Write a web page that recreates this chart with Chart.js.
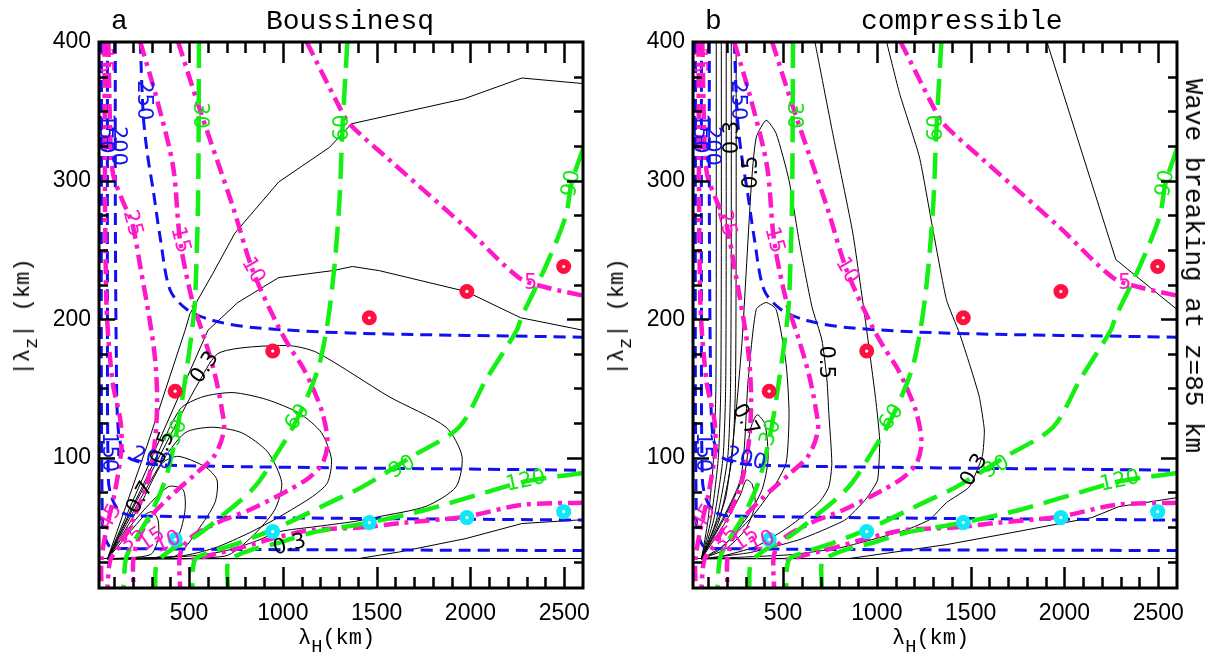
<!DOCTYPE html>
<html><head><meta charset="utf-8">
<script src="https://cdn.jsdelivr.net/npm/chart.js@4.4.1/dist/chart.umd.min.js"></script>
<style>
html,body{margin:0;padding:0;background:#fff;}
body{width:1219px;height:666px;position:relative;overflow:hidden;}
canvas{position:absolute;top:0;}
.t{position:absolute;font-family:"Liberation Mono",monospace;color:#000;white-space:nowrap;line-height:1;}
.sub{position:relative;font-size:0.85em;top:0.45em;}
</style></head><body>
<canvas id="ca" width="594" height="666" style="left:0"></canvas>
<canvas id="cb" width="625" height="666" style="left:594px"></canvas>
<div class="t" style="left:111px;top:8px;font-size:28px">a</div>
<div class="t" style="left:266px;top:8px;font-size:28px">Boussinesq</div>
<div class="t" style="left:705px;top:8px;font-size:28px">b</div>
<div class="t" style="left:861px;top:8px;font-size:28px">compressible</div>
<div class="t" style="left:1193px;top:266px;font-size:26px;transform:translate(-50%,-50%) rotate(90deg)">Wave breaking at z=85 km</div>
<div class="t" style="left:24px;top:317px;font-size:22px;transform:translate(-50%,-50%) rotate(-90deg)">|λ<span class="sub">z</span>| (km)</div>
<div class="t" style="left:618px;top:317px;font-size:22px;transform:translate(-50%,-50%) rotate(-90deg)">|λ<span class="sub">z</span>| (km)</div>
<div class="t" style="left:298px;top:628px;font-size:22px">λ<span class="sub">H</span>(km)</div>
<div class="t" style="left:892px;top:628px;font-size:22px">λ<span class="sub">H</span>(km)</div>
<script>
// ---------- axes ----------
const X_MIN = 20, X_MAX = 2600;
const Y_MIN = 6, Y_MAX = 400;
const X_TICKS = [500, 1000, 1500, 2000, 2500];
const Y_TICKS = [100, 200, 300, 400];

// ---------- markers ----------
const dotX  = [426, 946, 1461, 1981, 2497];
const redY  = [148, 177, 201, 220, 238];
const cyanY = [41, 46.7, 53.2, 56.8, 61.1];

// ---------- green (period) curves ----------
const G30  = [[553,400],[548,286],[532,214],[516,192],[479,156],[436,120],[373,84],[293,59],[213,41],[165,28],[150,6]];
const G60  = [[1344,400],[1318,338],[1302,286],[1275,238],[1238,197],[1185,163],[1073,127],[983,106],[850,79],[675,58],[532,43],[410,34],[330,24],[319,6]];
const G90  = [[2603,324],[2539,298],[2507,274],[2401,238],[2274,202],[2247,192],[2082,156],[1939,122],[1689,101],[1424,79],[1249,67.6],[983,50.3],[771,38.8],[612,31.6],[532,26.5],[516,6]];
const G120 = [[2600,89],[2295,83],[2082,75],[1764,62.5],[1461,53.2],[1158,46],[983,38.8],[835,33.7],[744,28.7],[707,25],[707,6]];

// ---------- blue curves ----------
const B250 = [[240,400],[256,347],[277,320],[309,293],[346,259],[399,221],[489,207],[627,199],[840,194],[1355,190],[2600,187]];
const B200 = [[107,400],[107,286],[112,178],[123,120],[160,102],[266,96],[558,94],[2600,91]];
const B150 = [[65,400],[65,214],[70,84],[91,70],[134,61],[213,58],[2600,55]];
const B100 = [[33,400],[38,55],[70,37],[134,34.5],[2600,33]];

// ---------- magenta curves ----------
const M5U = [[1127,400],[1302,353],[1355,341],[1567,315],[1976,266],[2258,230],[2401,223],[2600,217]];
const M5L = [[2600,67.6],[2274,66],[1976,57.5],[1636,53],[1408,49.6],[1158,48],[983,43],[771,35],[585,28.7],[505,26]];
const M10 = [[442,400],[558,351],[734,281],[840,235],[967,197],[1036,180],[1105,165.5],[1158,151],[1212,132],[1238,111],[1212,96],[1143,86],[1036,77],[824,62.5],[649,53],[505,42],[452,30],[452,6]];
const M15 = [[240,400],[330,358],[415,310],[452,257],[516,214],[585,185],[638,160],[675,135],[686,120],[638,102],[532,88],[399,72],[293,57],[229,41],[203,26.5],[203,6]];
const M25 = [[70,400],[81,329],[96,304],[144,286],[197,269],[240,238],[293,197],[319,171],[330,142],[319,113],[282,84],[213,59],[134,37],[81,26.5],[65,6]];
const M35 = [[49,400],[59,214],[91,156],[134,127],[139,106],[107,77],[59,48],[33,26.5],[33,6]];

// ---------- black contours, panel a (Boussinesq) ----------
const A1 = [[65,27],[277,109],[479,192],[505,204],[627,233],[744,262],[978,299],[1249,324],[1366,341],[1966,359],[2274,374],[2600,370]];
const A2 = [[65,27],[330,109],[601,192],[760,212],[978,230],[1265,235],[1371,238],[1514,235],[1976,220],[2268,201],[2600,192]];
const A3 = [[65,27],[346,102],[558,156],[665,176],[1020,181],[1180,176],[1567,144],[1870,122],[1955,101],[1923,79],[1764,65],[1514,57.5],[1381,54],[1158,50],[983,46.7],[860,40],[700,33],[500,29],[65,27]];
const A4 = [[65,27],[293,91],[452,135],[574,144],[734,147],[914,142],[1089,132],[1206,118],[1259,99],[1238,82],[1158,72],[983,57.5],[824,46],[638,35],[452,29],[65,27]];
const A5 = [[65,27],[346,95],[479,118],[622,122],[781,118],[920,104],[994,82],[957,62.5],[835,43],[691,29],[65,27]];
const A6 = [[65,27],[240,66],[357,96],[442,101],[585,93.5],[649,84],[638,67.6],[548,48],[426,29],[65,27]];
const A7 = [[65,27],[213,55],[388,79],[468,77],[479,62.5],[442,43],[357,29],[65,27]];
const A8 = [[65,27],[266,59],[304,61],[335,55],[335,41],[293,30],[65,27]];
const A9 = [[65,27],[1408,27.3],[1620,32],[1976,41.7],[2274,52.5],[2600,55.3]];
const BASE = [[20,27.3],[2600,27.3]];

// ---------- black contours, panel b (compressible) ----------
const C1 = [[65,27],[192,70],[245,127],[282,185],[330,295],[357,331],[410,343.5],[463,334],[532,300],[585,257],[654,209],[707,185],[734,156],[744,132],[760,96],[744,79],[691,67.6],[532,50.3],[357,36],[165,28.7],[65,27]];
const C2 = [[65,27],[272,84],[314,156],[357,207],[410,212],[463,207],[516,168],[532,132],[516,96],[442,77],[335,57.5],[176,36],[65,27]];
const C3 = [[65,27],[200,60],[298,91],[325,120],[362,131],[404,124],[420,99],[388,77],[298,55],[165,34],[65,27]];
const C4 = [[65,27],[200,55],[272,73],[304,84],[335,81],[351,66],[298,48],[192,34],[65,27]];
const C5 = [[670,400],[765,334],[872,262],[946,192],[994,142],[1015,113],[1004,84],[941,70],[829,55],[590,41],[325,31.6],[65,27]];
const C6 = [[1052,400],[1121,363],[1227,317],[1297,266],[1371,214],[1440,190],[1493,168],[1546,144],[1573,120],[1562,101],[1493,79],[1371,67.6],[1281,55.3],[1158,48],[1015,42.4],[803,35],[537,30],[65,27]];
const C7 = [[1907,400],[2274,243],[2600,207]];
const C8 = [[65,27],[856,27.3],[1371,37.3],[1721,46],[2146,56.8],[2290,64.7],[2600,71.2]];
const F1 = [[144,400],[144,250],[142,150],[130,100],[100,55],[65,27]];
const F2 = [[171,400],[171,250],[168,150],[155,100],[115,55],[65,27]];
const F3 = [[197,400],[197,250],[194,150],[180,100],[130,55],[65,27]];
const F4 = [[224,400],[224,250],[220,150],[205,100],[145,55],[65,27]];
const F5 = [[250,400],[250,250],[246,150],[228,100],[160,55],[65,27]];

// ---------- contour labels: text, x, y, angle ----------
const GREEN_LABELS = [['30',553,347,90],['30',436,118,-70],['60',1318,338,-90],['60',1079,129,-55],['90',2539,298,-80],['90',1636,93,-28],['120',2295,83,-12]];
const BLUE_LABELS = [['250',256,358,90],['200',118,325,90],['150',54,334,90],['200',303,99,15],['150',70,104,90]];
const MAG_LABELS = [['5',2321,226,0],['10',840,235,60],['15',452,257,75],['25',197,269,75],['15',43,387,90],['45',81,57,-60],['35',197,41,-45],['15',303,41,-35],['10',388,39,-25]];
const BLACK_LABELS_A = [['0.3',585,165,-55],['0.3',1036,37,-15],['0.7',240,71,-60],['0.5',362,107,-70]];
const BLACK_LABELS_B = [['0.3',229,331,-90],['0.5',330,306,-90],['0.5',728,169,90],['0.3',1520,91,-60],['0.7',298,127,60]];

const GREEN = '#14f014', BLUE = '#1010f0', MAG = '#ff18c8', RED = '#ff1040', CYAN = '#10e8f8';

function pts(a){ return a.map(p => ({x:p[0], y:p[1]})); }
function lineDs(arr, color, width, dash, tension, order){
  return {data:pts(arr), showLine:true, borderColor:color, borderWidth:width, borderDash:dash,
    pointRadius:0, pointHoverRadius:0, tension:tension, fill:false, order:order};
}
function dotDs(xs, ys, color, r, order){
  return {data:xs.map((v,i)=>({x:v, y:ys[i]})), showLine:false, pointRadius:r, pointHoverRadius:r,
    pointBackgroundColor:color, pointBorderWidth:0, pointBorderColor:color, order:order};
}
function sharedDatasets(){
  const d = [];
  d.push(dotDs(dotX, redY, RED, 7.5, 1));
  d.push(dotDs(dotX, redY, '#ffffff', 1.6, 0));
  d.push(dotDs(dotX, cyanY, CYAN, 7.5, 1));
  d.push(dotDs(dotX, cyanY, '#ffffff', 1.6, 0));
  [G30, G60, G90, G120].forEach(a => d.push(lineDs(a, GREEN, 4.5, [26,11], 0.3, 2)));
  [M5U, M5L, M10, M15, M25, M35].forEach(a => d.push(lineDs(a, MAG, 4.5, [15,6,4,6], 0.3, 3)));
  [B250, B200, B150, B100].forEach(a => d.push(lineDs(a, BLUE, 3, [12,7], 0.3, 4)));
  return d;
}

function framePlugin(blackLabels){
  const labels = [].concat(
    GREEN_LABELS.map(l => [...l, '#10e810']),
    BLUE_LABELS.map(l => [...l, '#1414ee']),
    MAG_LABELS.map(l => [...l, MAG]),
    blackLabels.map(l => [...l, '#000'])
  );
  return {
    id: 'frame',
    afterDatasetsDraw(chart){
      const {ctx, chartArea:a, scales:{x, y}} = chart;
      ctx.save();
      ctx.beginPath(); ctx.rect(a.left, a.top, a.right-a.left, a.bottom-a.top); ctx.clip();
      ctx.font = '21px "DejaVu Sans"';
      ctx.textAlign = 'center'; ctx.textBaseline = 'middle';
      for (const [t, lx, ly, rot, col] of labels){
        ctx.save();
        ctx.translate(x.getPixelForValue(lx), y.getPixelForValue(ly));
        ctx.rotate(rot*Math.PI/180);
        ctx.fillStyle = col;
        ctx.fillText(t, 0, 0);
        ctx.restore();
      }
      ctx.restore();
      ctx.save();
      ctx.strokeStyle = '#000'; ctx.lineWidth = 2.5;
      ctx.beginPath();
      for (let v = 100; v < X_MAX; v += 100){
        const px = Math.round(x.getPixelForValue(v)) + 0.5;
        const len = (v % 500 === 0) ? 21 : 11;
        ctx.moveTo(px, a.bottom); ctx.lineTo(px, a.bottom - len);
        ctx.moveTo(px, a.top); ctx.lineTo(px, a.top + len);
      }
      for (let v = 25; v < Y_MAX; v += 25){
        const py = Math.round(y.getPixelForValue(v)) + 0.5;
        const len = (v % 100 === 0) ? 16 : 9;
        ctx.moveTo(a.left, py); ctx.lineTo(a.left + len, py);
        ctx.moveTo(a.right, py); ctx.lineTo(a.right - len, py);
      }
      ctx.stroke();
      ctx.lineWidth = 3;
      ctx.strokeRect(a.left, a.top, a.right-a.left, a.bottom-a.top);
      ctx.restore();
    }
  };
}

function makeChart(id, blackSets, blackLabels, rightPad){
  const ds = sharedDatasets();
  blackSets.forEach(([arr, ten]) => ds.push(lineDs(arr, '#000', 1, [], ten, 5)));
  return new Chart(document.getElementById(id), {
    type: 'scatter',
    data: {datasets: ds},
    options: {
      responsive: false, animation: false, devicePixelRatio: 1, events: [],
      layout: {padding: {top: 42, right: rightPad, left: 0, bottom: 0}},
      plugins: {legend: {display: false}, tooltip: {enabled: false}},
      scales: {
        x: {type: 'linear', position: 'bottom', min: X_MIN, max: X_MAX,
            grid: {display: false, drawTicks: false}, border: {display: false},
            ticks: {color: '#000', padding: 12, autoSkip: false, maxRotation: 0,
                    font: {family: '"Liberation Sans"', size: 23}, callback: v => String(v)},
            afterBuildTicks: s => { s.ticks = X_TICKS.map(v => ({value: v})); },
            afterFit: s => { s.height = 78; s.paddingLeft = 0; s.paddingRight = 0; }},
        y: {type: 'linear', position: 'left', min: Y_MIN, max: Y_MAX,
            grid: {display: false, drawTicks: false}, border: {display: false},
            ticks: {color: '#000', padding: 8, autoSkip: false,
                    font: {family: '"Liberation Sans"', size: 23}, callback: v => String(v)},
            afterBuildTicks: s => { s.ticks = Y_TICKS.map(v => ({value: v})); },
            afterFit: s => { s.width = 99; s.paddingTop = 0; s.paddingBottom = 0; }}
      }
    },
    plugins: [framePlugin(blackLabels)]
  });
}

makeChart('ca', [[A1,0],[A2,0],[A3,0.25],[A4,0.25],[A5,0.25],[A6,0.25],[A7,0.25],[A8,0.25],[A9,0],[BASE,0]], BLACK_LABELS_A, 11);
makeChart('cb', [[C1,0.2],[C2,0.2],[C3,0.25],[C4,0.25],[C5,0.15],[C6,0.15],[C7,0],[C8,0],[F1,0.2],[F2,0.2],[F3,0.2],[F4,0.2],[F5,0.2],[BASE,0]], BLACK_LABELS_B, 42);
</script>
</body></html>
